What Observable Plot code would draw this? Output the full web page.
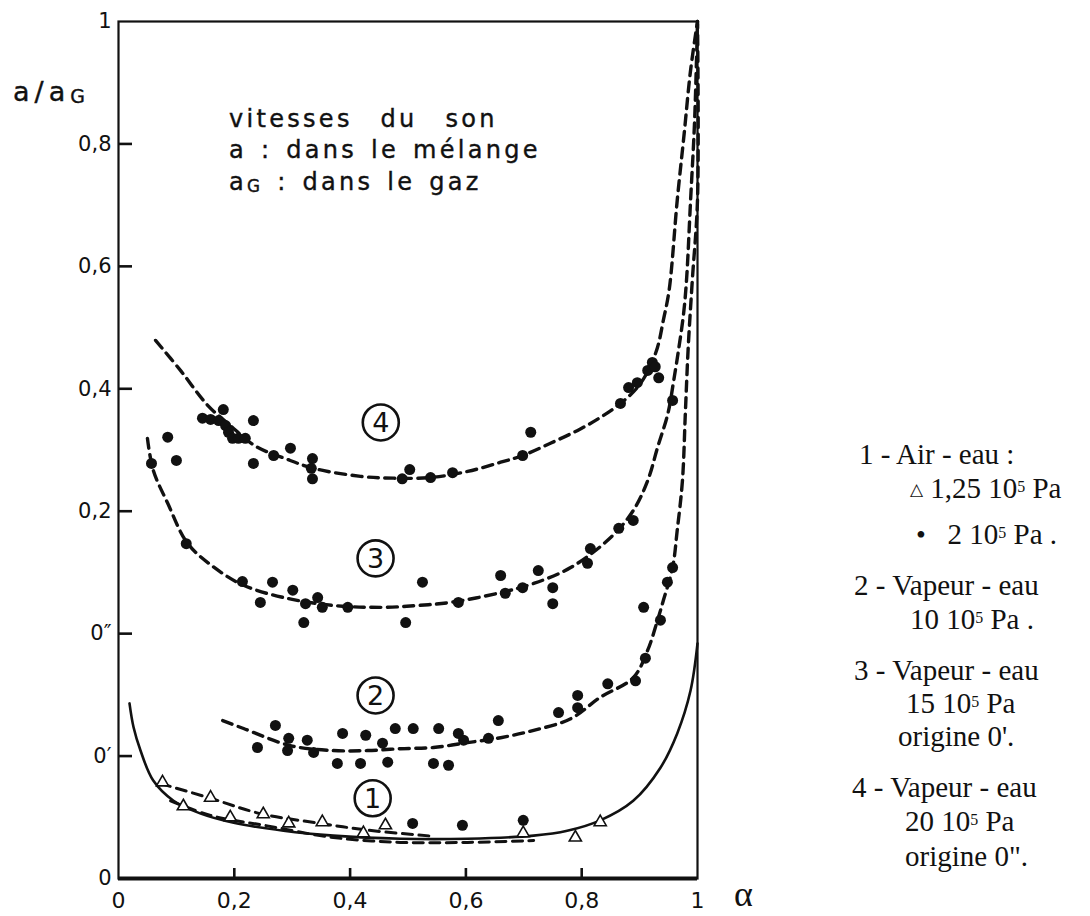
<!DOCTYPE html>
<html><head><meta charset="utf-8">
<script src="https://cdn.jsdelivr.net/npm/d3@7"></script>
<script src="https://cdn.jsdelivr.net/npm/@observablehq/plot@0.6"></script>
<style>
body{margin:0;background:#fff;}
#wrap{position:relative;width:1090px;height:916px;overflow:hidden;background:#fff;}
.ov{position:absolute;white-space:nowrap;color:#111;line-height:1;}
sup{font-size:0.55em;vertical-align:0.4em;line-height:0;}
.sub{font-size:0.7em;position:relative;top:0.12em;}
</style></head><body><div id="wrap"></div>
<script>
// ---- axis ticks ----
const alphaTicks = [0, 0.2, 0.4, 0.6, 0.8, 1];
const alphaTickLabels = ["0", "0,2", "0,4", "0,6", "0,8", "1"];
const yTicks = [-0.4, -0.2, 0, 0.2, 0.4, 0.6, 0.8, 1];
const yTickLabels = ["0", "0′", "0″", "0,2", "0,4", "0,6", "0,8", "1"];

// ---- series (alpha, value on printed scale; 0″ = 0) ----
// 4 - Vapeur-eau 20 bar (origin 0″)
const s4Curve = [[0.064,0.479],[0.107,0.430],[0.154,0.373],[0.193,0.340],[0.237,0.306],[0.288,0.286],[0.337,0.270],[0.418,0.257],[0.475,0.254],[0.539,0.255],[0.603,0.265],[0.660,0.280],[0.698,0.291],[0.746,0.311],[0.793,0.332],[0.832,0.353],[0.867,0.376],[0.896,0.402],[0.915,0.430],[0.931,0.468],[0.941,0.512],[0.951,0.561],[0.965,0.708],[0.977,0.817],[0.988,0.920],[1.0,1.0]];
const s4Points = [[0.145,0.352],[0.159,0.350],[0.173,0.348],[0.181,0.366],[0.185,0.340],[0.190,0.329],[0.197,0.319],[0.207,0.319],[0.219,0.319],[0.233,0.348],[0.233,0.278],[0.268,0.291],[0.297,0.303],[0.335,0.286],[0.333,0.270],[0.335,0.253],[0.490,0.253],[0.503,0.268],[0.539,0.255],[0.577,0.263],[0.698,0.291],[0.712,0.329],[0.867,0.376],[0.881,0.402],[0.896,0.410],[0.914,0.430],[0.922,0.443],[0.927,0.436],[0.933,0.418]];
// 3 - Vapeur-eau 15 bar (origin 0′)
const s3Curve = [[0.050,0.319],[0.060,0.267],[0.085,0.213],[0.119,0.148],[0.164,0.109],[0.216,0.079],[0.285,0.059],[0.371,0.046],[0.458,0.043],[0.516,0.046],[0.573,0.051],[0.660,0.067],[0.717,0.082],[0.781,0.108],[0.850,0.157],[0.889,0.201],[0.914,0.250],[0.931,0.304],[0.949,0.360],[0.959,0.414],[0.968,0.468],[0.976,0.523],[0.981,0.577],[0.988,0.707],[0.995,0.838],[1.0,1.0]];
const s3Points = [[0.057,0.278],[0.085,0.321],[0.100,0.283],[0.117,0.147],[0.214,0.085],[0.266,0.084],[0.245,0.051],[0.301,0.071],[0.320,0.018],[0.323,0.049],[0.344,0.059],[0.352,0.043],[0.396,0.043],[0.496,0.018],[0.525,0.084],[0.587,0.051],[0.660,0.095],[0.668,0.066],[0.698,0.075],[0.725,0.103],[0.750,0.075],[0.750,0.049],[0.810,0.115],[0.815,0.139],[0.864,0.172],[0.889,0.185],[0.957,0.381]];
// 2 - Vapeur-eau 10 bar (origin 0)
const s2Curve = [[0.180,-0.142],[0.216,-0.155],[0.297,-0.183],[0.371,-0.191],[0.430,-0.191],[0.487,-0.188],[0.544,-0.186],[0.603,-0.178],[0.660,-0.170],[0.717,-0.158],[0.781,-0.139],[0.832,-0.104],[0.889,-0.072],[0.914,-0.027],[0.931,0.022],[0.941,0.054],[0.957,0.108],[0.965,0.169],[0.974,0.250],[0.979,0.360],[0.984,0.468],[0.991,0.577],[1.0,0.708],[1.0,1.0]];
const s2Points = [[0.271,-0.150],[0.240,-0.186],[0.294,-0.171],[0.292,-0.191],[0.326,-0.174],[0.337,-0.194],[0.387,-0.163],[0.378,-0.212],[0.427,-0.166],[0.418,-0.212],[0.456,-0.179],[0.465,-0.210],[0.478,-0.155],[0.509,-0.155],[0.553,-0.155],[0.587,-0.163],[0.544,-0.212],[0.570,-0.215],[0.596,-0.174],[0.639,-0.171],[0.656,-0.142],[0.760,-0.129],[0.793,-0.101],[0.793,-0.121],[0.845,-0.082],[0.893,-0.077],[0.910,-0.040],[0.907,0.043],[0.936,0.022],[0.948,0.084],[0.957,0.108]];
// 1 - Air-eau (origin 0)
const s1Solid = [[0.019,-0.114],[0.026,-0.153],[0.038,-0.191],[0.060,-0.240],[0.095,-0.273],[0.142,-0.294],[0.199,-0.309],[0.285,-0.322],[0.371,-0.330],[0.487,-0.335],[0.603,-0.335],[0.717,-0.330],[0.775,-0.322],[0.832,-0.305],[0.889,-0.273],[0.936,-0.219],[0.965,-0.163],[0.988,-0.093],[1.0,-0.016]];
const s1Upper = [[0.073,-0.245],[0.159,-0.269],[0.245,-0.294],[0.349,-0.310],[0.430,-0.321],[0.544,-0.331]];
const s1Lower = [[0.090,-0.273],[0.159,-0.297],[0.257,-0.314],[0.371,-0.333],[0.487,-0.341],[0.603,-0.341],[0.717,-0.338]];
const s1Tri = [[0.076,-0.243],[0.112,-0.282],[0.159,-0.268],[0.193,-0.300],[0.250,-0.295],[0.294,-0.310],[0.352,-0.308],[0.423,-0.326],[0.461,-0.313],[0.699,-0.326],[0.789,-0.333],[0.832,-0.308]];
const s1Dot = [[0.508,-0.310],[0.594,-0.313],[0.699,-0.305]];
// circled curve numbers
const curveNames = ["1", "2", "3", "4"];
const curveNameAlpha = [0.439, 0.444, 0.444, 0.453];
const curveNameY = [-0.269, -0.101, 0.123, 0.345];

// ---- texts ----
const annotationLines = ["vitesses&nbsp; du&nbsp; son", "a : dans le mélange", "a<span class='sub'>G</span> : dans le gaz"];
const legendLines = [
  "1 - Air - eau :",
  "<span style='font-size:17px;vertical-align:3px'>△</span> 1,25 10<sup>5</sup> Pa",
  "<span style='font-size:28px'>•</span>&nbsp;&nbsp; 2 10<sup>5</sup> Pa .",
  "2 - Vapeur - eau",
  "10 10<sup>5</sup> Pa .",
  "3 - Vapeur - eau",
  "15 10<sup>5</sup> Pa",
  "origine 0'.",
  "4 - Vapeur - eau",
  "20 10<sup>5</sup> Pa",
  "origine 0\"."
];

const yFmt = new Map(yTicks.map((v, i) => [v, yTickLabels[i]]));
const xFmt = new Map(alphaTicks.map((v, i) => [v, alphaTickLabels[i]]));
const pts = a => a.map(([x, y]) => ({x, y}));
const names = curveNames.map((n, i) => ({n, x: curveNameAlpha[i], y: curveNameY[i]}));

const dash = {x: "x", y: "y", stroke: "#111", strokeWidth: 3.4, strokeDasharray: "10,6.5", curve: "catmull-rom"};

const chart = Plot.plot({
  width: 1090, height: 916,
  marginLeft: 118, marginRight: 393, marginTop: 21, marginBottom: 38,
  style: {fontFamily: "DejaVu Sans", background: "#fff", color: "#111"},
  x: {domain: [0, 1], axis: null},
  y: {domain: [-0.4, 1], axis: null},
  marks: [
    Plot.frame({stroke: "#111", strokeWidth: 2.2}),
    Plot.ruleY([-0.4], {stroke: "#111", strokeWidth: 4}),
    Plot.axisY(yTicks, {tickSize: 0, tickPadding: 7, tickFormat: d => yFmt.get(d), fontSize: 21, label: null}),
    Plot.axisY(yTicks.slice(1, -1), {tickSize: 14, dx: 14, tickFormat: () => "", strokeWidth: 2.6, label: null}),
    Plot.axisX(alphaTicks, {tickSize: 0, tickPadding: 14, tickFormat: d => xFmt.get(d), fontSize: 22, label: null}),
    Plot.axisX(alphaTicks.slice(1, -1), {tickSize: 10, dy: -10, tickFormat: () => "", strokeWidth: 2.6, label: null}),
    Plot.line(pts(s4Curve), dash),
    Plot.line(pts(s3Curve), dash),
    Plot.line(pts(s2Curve), dash),
    Plot.line(pts(s1Upper), {...dash, strokeWidth: 3}),
    Plot.line(pts(s1Lower), {...dash, strokeWidth: 3}),
    Plot.line(pts(s1Solid), {x: "x", y: "y", stroke: "#111", strokeWidth: 2.6, curve: "catmull-rom"}),
    Plot.dot(pts(s4Points), {x: "x", y: "y", r: 5.5, fill: "#111"}),
    Plot.dot(pts(s3Points), {x: "x", y: "y", r: 5.5, fill: "#111"}),
    Plot.dot(pts(s2Points), {x: "x", y: "y", r: 5.5, fill: "#111"}),
    Plot.dot(pts(s1Dot), {x: "x", y: "y", r: 5.5, fill: "#111"}),
    Plot.dot(pts(s1Tri), {x: "x", y: "y", symbol: "triangle", r: 4.5, fill: "#fff", stroke: "#111", strokeWidth: 1.6}),
    Plot.dot(names, {x: "x", y: "y", r: 18, fill: "#fff", stroke: "#111", strokeWidth: 2.6}),
    Plot.text(names, {x: "x", y: "y", text: "n", fontSize: 27, fill: "#111", dy: 1})
  ]
});
const wrap = document.getElementById("wrap");
wrap.appendChild(chart);

// overlay text placed by baseline
function place(html, left, baseline, size, family, extra = "") {
  const asc = family.includes("Serif") ? 0.8375 : 0.846;
  const d = document.createElement("div");
  d.className = "ov";
  d.innerHTML = html;
  d.style.cssText += `left:${left}px;top:${baseline - asc * size}px;font-size:${size}px;font-family:'${family}';${extra}`;
  wrap.appendChild(d);
}
place("a/a<span class='sub'>G</span>", 13, 101, 27, "DejaVu Sans", "letter-spacing:5px;-webkit-text-stroke:0.4px #111;");
const annBase = [127, 158, 190];
annotationLines.forEach((t, i) => place(t, 229, annBase[i], 24, "DejaVu Sans", "letter-spacing:3.3px;word-spacing:3px;-webkit-text-stroke:0.4px #111;"));
place("α", 734, 906, 36, "Liberation Serif");
const legLeft = [859, 910, 916, 854, 910, 854, 906, 898, 852, 905, 905];
const legBase = [464, 498, 544, 595, 629, 680, 713, 746, 797, 831, 866];
legendLines.forEach((t, i) => place(t, legLeft[i], legBase[i], 29, "Liberation Serif"));
</script></body></html>
